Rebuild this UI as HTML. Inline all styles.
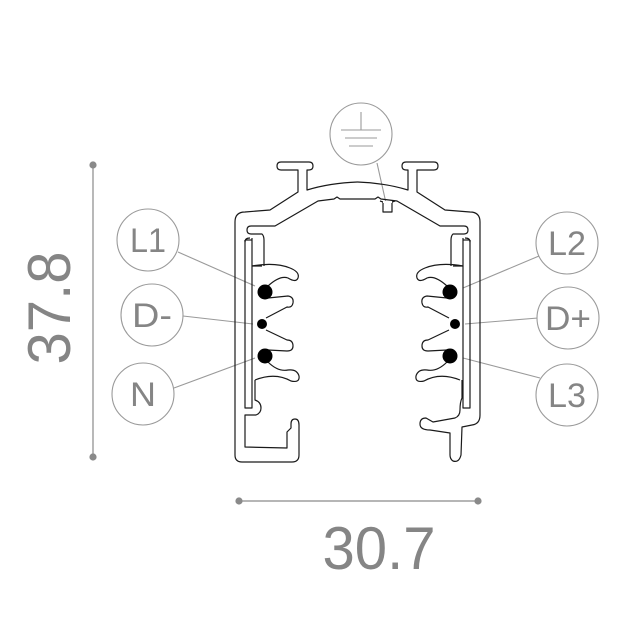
<!DOCTYPE html>
<html><head><meta charset="utf-8"><style>
html,body{margin:0;padding:0;background:#fff;}
svg{display:block}
text{font-family:"Liberation Sans",sans-serif;fill:#858585;}
</style></head><body>
<svg width="625" height="625" viewBox="0 0 625 625" xmlns="http://www.w3.org/2000/svg">
<!-- dimensions -->
<g stroke="#8a8a8a" stroke-width="1.2" fill="#8a8a8a">
<line x1="93" y1="165" x2="93" y2="457"/>
<circle cx="93" cy="165" r="3"/><circle cx="93" cy="457" r="3"/>
<line x1="239" y1="501" x2="478" y2="501"/>
<circle cx="239" cy="501" r="3"/><circle cx="478" cy="501" r="3"/>
</g>
<text x="0" y="0" font-size="60" transform="translate(70,308) rotate(-90)" text-anchor="middle" textLength="113" lengthAdjust="spacingAndGlyphs">37.8</text>
<text x="379" y="569" font-size="60" text-anchor="middle" textLength="113" lengthAdjust="spacingAndGlyphs">30.7</text>

<!-- leader lines -->
<g stroke="#9a9a9a" stroke-width="1.1" fill="none">
<line x1="178" y1="252" x2="255" y2="286"/>
<line x1="183" y1="316" x2="253" y2="324"/>
<line x1="174" y1="388" x2="255" y2="358"/>
<line x1="539" y1="256" x2="463" y2="288"/>
<line x1="538" y1="318" x2="465" y2="324"/>
<line x1="540" y1="378" x2="463" y2="358"/>
<line x1="377" y1="163" x2="386" y2="203"/>
</g>
<!-- label circles -->
<g stroke="#9a9a9a" stroke-width="1.1" fill="#fff">
<circle cx="148" cy="240" r="31"/><circle cx="152" cy="315" r="31"/><circle cx="143" cy="394" r="31"/>
<circle cx="567" cy="243" r="31"/><circle cx="568" cy="318" r="31"/><circle cx="567" cy="395" r="31"/>
<circle cx="361" cy="134" r="31"/>
</g>
<g stroke="#9a9a9a" stroke-width="1.1">
<line x1="361" y1="112" x2="361" y2="130"/>
<line x1="341" y1="130" x2="381" y2="130"/>
<line x1="345" y1="138" x2="377" y2="138"/>
<line x1="349" y1="146" x2="373" y2="146"/>
</g>
<g font-size="34" text-anchor="middle">
<text x="148" y="252" textLength="36" lengthAdjust="spacingAndGlyphs">L1</text>
<text x="152" y="327" textLength="40" lengthAdjust="spacingAndGlyphs">D-</text>
<text x="143" y="406" textLength="26" lengthAdjust="spacingAndGlyphs">N</text>
<text x="567" y="255" textLength="38" lengthAdjust="spacingAndGlyphs">L2</text>
<text x="568" y="330" textLength="46" lengthAdjust="spacingAndGlyphs">D+</text>
<text x="567" y="407" textLength="38" lengthAdjust="spacingAndGlyphs">L3</text>
</g>

<!-- profile -->
<g stroke="#1a1a1a" stroke-width="1.2" fill="none" stroke-linejoin="round">
<g id="half">
<path d="M357.5,182 Q330,183 307,190 L307,170 L309,170 Q313,170 313,166 Q313,162 309,162 L281,162 Q277,162 277,166 Q277,170 281,170 L298,170 L298,192 L270,210 L245,212 Q235,212 235,222"/>
<path d="M357.5,199 L340,199 L337,197 L334,199 L318,201 L275,226 L251,226 Q247,226 247,230 Q247,234 251,234 L262,234 Q264,236 264,240 L264,266"/>
<path d="M252,238 L252,266 L262,266"/>
<path d="M245,240 L245,242 Q245,238 250,238"/>
<path d="M252,266 Q275,262 290,268 Q300,272 298,278 Q296,283 288,278 Q280,275 268,286"/>
<path d="M268,298 L288,296 Q294,297 293,303 Q292,308 287,307 L266,318"/>
<path d="M266,330 L287,340 Q293,340 293,346 Q293,351 287,351 L268,350"/>
<path d="M268,362 Q278,372 288,370 Q297,369 299,376 Q300,383 291,381 Q275,372 255,380"/>
</g>
<use href="#half" transform="translate(715,0) scale(-1,1)"/>
<!-- left walls and bottom -->
<path d="M235,222 L235,455 Q235,462 242,462 L292,462 Q299,462 299,455 L299,425 Q299,419 295,419 Q291,419 291,424 L291,428 L287,432 L287,448 L245,447 L245,415 L256,415 Q261,413 261,408 Q261,402 255,400 L255,380"/>
<path d="M245,240 L245,408 L252,408 L252,266"/>
<path d="M245,240 L252,240"/>
<!-- right walls and bottom -->
<path d="M480,222 L480,415 Q480,424 472,425 L462,427 L461,455 Q459,463 453,461 Q450,459 450,455 L450,433 L430,430 Q420,430 420,424 Q420,418 426,418 L433,422 L455,418 Q460,416 460,410 Q460,402 462,398 L462,380"/>
<path d="M470,240 L470,408 L463,408 L463,266"/>
<path d="M463,240 L470,240"/>
<!-- notch -->
<path d="M380,201 L383,202 L383,212 L392,212 L392,202 L395,201" stroke="#1a1a1a"/>
<line x1="383" y1="202" x2="392" y2="202" stroke="#fff" stroke-width="2"/>
</g>
<g fill="#000">
<circle cx="265" cy="292" r="7.5"/><circle cx="262" cy="324" r="5"/><circle cx="265" cy="356" r="7.5"/>
<circle cx="450" cy="292" r="7.5"/><circle cx="455" cy="324" r="5"/><circle cx="450" cy="356" r="7.5"/>
</g>
</svg>
</body></html>
